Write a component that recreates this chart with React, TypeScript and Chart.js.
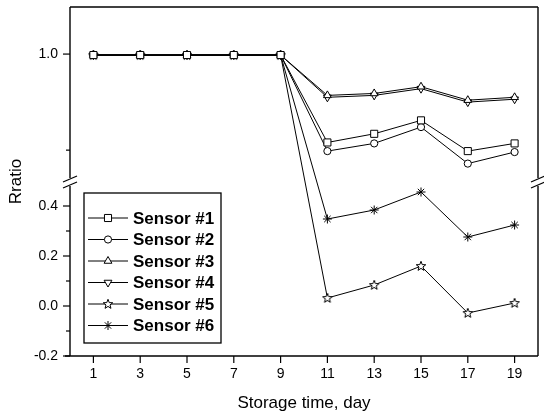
import React, { useEffect, useRef } from 'react';
import { Chart, registerables, LinearScale } from 'chart.js';
import { drawPoint } from 'chart.js/helpers';

Chart.register(...registerables);

// ---------- data ----------
const DAYS = [1, 3, 5, 7, 9, 11, 13, 15, 17, 19];
const SENSOR_1 = [0.999, 0.999, 0.999, 0.999, 0.999, 0.908, 0.917, 0.931, 0.899, 0.907];
const SENSOR_2 = [0.999, 0.999, 0.999, 0.999, 0.999, 0.899, 0.907, 0.924, 0.886, 0.898];
const SENSOR_3 = [0.999, 0.999, 0.999, 0.999, 0.999, 0.957, 0.959, 0.966, 0.952, 0.955];
const SENSOR_4 = [0.999, 0.999, 0.999, 0.999, 0.999, 0.955, 0.957, 0.964, 0.950, 0.953];
const SENSOR_5 = [0.999, 0.999, 0.999, 0.999, 0.999, 0.032, 0.084, 0.160, -0.028, 0.012];
const SENSOR_6 = [0.999, 0.999, 0.999, 0.999, 0.999, 0.348, 0.384, 0.456, 0.276, 0.324];
const SERIES_LABELS = ['Sensor #1', 'Sensor #2', 'Sensor #3', 'Sensor #4', 'Sensor #5', 'Sensor #6'];
const X_TICKS = [1, 3, 5, 7, 9, 11, 13, 15, 17, 19];
const Y_MAJOR_TICKS = [-0.2, 0.0, 0.2, 0.4, 1.0];
const Y_MINOR_TICKS = [-0.1, 0.1, 0.3, 0.9];
const LOWER_RANGE = [-0.2, 0.48];
const UPPER_RANGE = [0.871, 1.049];
const X_TITLE = 'Storage time, day';
const Y_TITLE = 'Rratio';

// ---------- style config ----------
const FONT = "'Liberation Sans', Arial, sans-serif";
const SEG_LOWER = 170;
const SEG_GAP = 8;
const SEG_UPPER = 171;

function makeStarImage(): HTMLCanvasElement {
  const c = document.createElement('canvas');
  c.width = 12;
  c.height = 12;
  const g = c.getContext('2d')!;
  const cx = 6, cy = 6.3, ro = 5, ri = 2.1;
  g.beginPath();
  for (let i = 0; i < 10; i++) {
    const r = i % 2 === 0 ? ro : ri;
    const a = -Math.PI / 2 + (i * Math.PI) / 5;
    const px = cx + r * Math.cos(a);
    const py = cy + r * Math.sin(a);
    if (i === 0) g.moveTo(px, py); else g.lineTo(px, py);
  }
  g.closePath();
  g.fillStyle = '#fff';
  g.fill();
  g.strokeStyle = '#000';
  g.lineWidth = 1;
  g.stroke();
  return c;
}

class BrokenLinearScale extends LinearScale {
  static id = 'brokenLinear';
  static defaults = {};
  buildTicks() {
    return [...Y_MAJOR_TICKS, ...Y_MINOR_TICKS]
      .sort((a, b) => a - b)
      .map((v) => ({ value: v }));
  }
  toDecimal(v: number) {
    const total = SEG_LOWER + SEG_GAP + SEG_UPPER;
    const [l0, l1] = LOWER_RANGE;
    const [u0, u1] = UPPER_RANGE;
    let px;
    if (v <= l1) px = ((v - l0) / (l1 - l0)) * SEG_LOWER;
    else if (v >= u0) px = SEG_LOWER + SEG_GAP + ((v - u0) / (u1 - u0)) * SEG_UPPER;
    else px = SEG_LOWER + ((v - l1) / (u0 - l1)) * SEG_GAP;
    return px / total;
  }
  getPixelForValue(value: any) {
    if (value === null || value === undefined || isNaN(value)) return NaN;
    return this.getPixelForDecimal(this.toDecimal(+value));
  }
  getValueForPixel(pixel: number) {
    const total = SEG_LOWER + SEG_GAP + SEG_UPPER;
    const px = this.getDecimalForPixel(pixel) * total;
    const [l0, l1] = LOWER_RANGE;
    const [u0, u1] = UPPER_RANGE;
    if (px <= SEG_LOWER) return l0 + (px / SEG_LOWER) * (l1 - l0);
    if (px >= SEG_LOWER + SEG_GAP) return u0 + ((px - SEG_LOWER - SEG_GAP) / SEG_UPPER) * (u1 - u0);
    return l1 + ((px - SEG_LOWER) / SEG_GAP) * (u0 - l1);
  }
}
Chart.register(BrokenLinearScale as any);

const framePlugin = {
  id: 'frame',
  afterDraw(chart: any) {
    const { ctx, chartArea } = chart;
    const { left, right, top, bottom } = chartArea;
    const x = chart.scales.x;
    const y = chart.scales.y;
    const line = (x1: number, y1: number, x2: number, y2: number) => {
      ctx.beginPath();
      ctx.moveTo(x1, y1);
      ctx.lineTo(x2, y2);
      ctx.stroke();
    };
    ctx.save();
    ctx.strokeStyle = '#000';
    ctx.lineWidth = 1.4;
    const gTop = y.getPixelForValue(UPPER_RANGE[0]);
    const gBot = y.getPixelForValue(LOWER_RANGE[1]);
    line(left, top, right, top);
    line(left - 5, bottom, right, bottom);
    for (const xx of [left, right]) {
      line(xx, top, xx, gTop);
      line(xx, gBot, xx, bottom);
    }
    ctx.lineWidth = 1.2;
    const mid = (gTop + gBot) / 2;
    for (const xx of [left, right]) {
      for (const off of [-3, 3]) {
        line(xx - 7, mid + off + 3, xx + 7, mid + off - 3);
      }
    }
    ctx.lineWidth = 1.2;
    for (const v of Y_MAJOR_TICKS) {
      const py = y.getPixelForValue(v);
      line(left - 7, py, left, py);
    }
    for (const v of Y_MINOR_TICKS) {
      const py = y.getPixelForValue(v);
      line(left - 4, py, left, py);
    }
    for (const v of X_TICKS) {
      const px = x.getPixelForValue(v);
      line(px, bottom, px, bottom + 7);
    }
    ctx.restore();
  },
};

const legendPlugin = {
  id: 'boxLegend',
  afterDraw(chart: any) {
    const { ctx } = chart;
    const bx = 84, by = 193, bw = 137, bh = 150;
    ctx.save();
    ctx.fillStyle = '#fff';
    ctx.fillRect(bx, by, bw, bh);
    ctx.strokeStyle = '#000';
    ctx.lineWidth = 1.3;
    ctx.strokeRect(bx, by, bw, bh);
    const datasets = chart.data.datasets;
    datasets.forEach((ds: any, i: number) => {
      const cy = 218 + i * 21.5;
      ctx.strokeStyle = '#000';
      ctx.lineWidth = 1;
      ctx.beginPath();
      ctx.moveTo(88, cy);
      ctx.lineTo(128, cy);
      ctx.stroke();
      ctx.fillStyle = '#fff';
      ctx.strokeStyle = '#000';
      drawPoint(
        ctx,
        {
          pointStyle: ds.pointStyle,
          rotation: ds.pointRotation || 0,
          radius: ds.pointRadius,
          borderWidth: 1,
        } as any,
        108,
        cy
      );
      ctx.fillStyle = '#000';
      ctx.font = `bold 17px ${FONT}`;
      ctx.textAlign = 'left';
      ctx.textBaseline = 'middle';
      ctx.fillText(ds.label, 133, cy + 1);
    });
    ctx.restore();
  },
};

export default function App() {
  const canvasRef = useRef<HTMLCanvasElement>(null);

  useEffect(() => {
    if (!canvasRef.current) return;
    Chart.defaults.font.family = FONT;
    Chart.defaults.color = '#000';
    const star = makeStarImage();
    const series = [SENSOR_1, SENSOR_2, SENSOR_3, SENSOR_4, SENSOR_5, SENSOR_6];
    const styles: any[] = [
      { pointStyle: 'rect', pointRadius: 5, pointRotation: 0 },
      { pointStyle: 'circle', pointRadius: 3.6, pointRotation: 0 },
      { pointStyle: 'triangle', pointRadius: 4.5, pointRotation: 0 },
      { pointStyle: 'triangle', pointRadius: 4.5, pointRotation: 180 },
      { pointStyle: star, pointRadius: 5, pointRotation: 0 },
      { pointStyle: 'star', pointRadius: 4.5, pointRotation: 0 },
    ];
    const datasets = series.map((vals, i) => ({
      label: SERIES_LABELS[i],
      data: DAYS.map((d, j) => ({ x: d, y: vals[j] })),
      borderColor: '#000',
      borderWidth: 1,
      backgroundColor: '#fff',
      pointBackgroundColor: '#fff',
      pointBorderColor: '#000',
      pointBorderWidth: 1,
      ...styles[i],
      tension: 0,
      fill: false,
    }));

    const chart = new Chart(canvasRef.current, {
      type: 'line',
      data: { datasets },
      plugins: [framePlugin, legendPlugin],
      options: {
        animation: false,
        responsive: true,
        maintainAspectRatio: false,
        events: [],
        layout: { padding: { top: 7, right: 4, left: 0, bottom: 0 } },
        plugins: { legend: { display: false }, tooltip: { enabled: false } },
        scales: {
          x: {
            type: 'linear',
            min: 0,
            max: 20,
            afterBuildTicks: (s: any) => {
              s.ticks = X_TICKS.map((v) => ({ value: v }));
            },
            afterFit: (s: any) => {
              s.height = 60;
              s.paddingLeft = 0;
              s.paddingRight = 0;
            },
            grid: { display: false },
            border: { display: false },
            ticks: {
              autoSkip: false,
              maxRotation: 0,
              padding: 2,
              font: { size: 14 },
              color: '#000',
              callback: (v: any) => String(v),
            },
            title: {
              display: true,
              text: X_TITLE,
              font: { size: 17 },
              color: '#000',
              padding: { top: 0, bottom: 2 },
            },
          },
          y: {
            type: 'brokenLinear' as any,
            min: LOWER_RANGE[0],
            max: UPPER_RANGE[1],
            afterFit: (s: any) => {
              s.width = 70;
              s.paddingTop = 0;
              s.paddingBottom = 0;
            },
            grid: { display: false },
            border: { display: false },
            ticks: {
              autoSkip: false,
              padding: 4,
              font: { size: 14 },
              color: '#000',
              callback: (v: any) =>
                Y_MAJOR_TICKS.some((m) => Math.abs(m - v) < 1e-9) ? Number(v).toFixed(1) : '',
            },
            title: {
              display: true,
              text: Y_TITLE,
              font: { size: 17 },
              color: '#000',
              padding: { top: 6, bottom: 0 },
            },
          },
        },
      } as any,
    });
    return () => chart.destroy();
  }, []);

  return (
    <div style={{ position: 'fixed', left: 0, top: 0, width: 544, height: 416, background: '#fff' }}>
      <canvas ref={canvasRef} />
    </div>
  );
}
